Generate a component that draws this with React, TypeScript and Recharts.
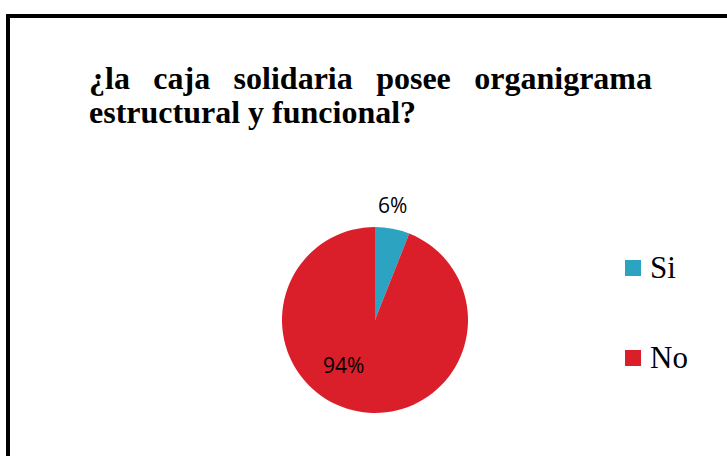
import React from "react";
import { PieChart, Pie, Cell, Legend } from "recharts";

const categories = ["Si", "No"];
const values = [6, 94];
const colors = ["#2BA3C1", "#DA1F2A"];
const titleLines = ["¿la caja solidaria posee organigrama", "estructural y funcional?"];

const data = categories.map((name, i) => ({ name, value: values[i] }));

const RAD = Math.PI / 180;

function renderLabel(props: any) {
  const { cx, cy, midAngle, outerRadius, percent, index } = props;
  let r: number;
  let a: number;
  if (percent < 0.1) {
    // small slice: label just outside the pie
    r = outerRadius + 23;
    a = midAngle + 2;
  } else {
    // big slice: label inside, nudged like the original
    r = outerRadius * 0.59;
    a = midAngle - 24;
  }
  const x = cx + r * Math.cos(-a * RAD);
  const y = cy + r * Math.sin(-a * RAD);
  return (
    <text
      key={`l-${index}`}
      x={x}
      y={y}
      textAnchor="middle"
      dominantBaseline="central"
      fill="#000"
      fontFamily="'Open Sans', sans-serif"
      fontSize={21}
    >
      {`${Math.round(percent * 100)}%`}
    </text>
  );
}

function LegendContent({ payload }: any) {
  const items = (payload || [])
    .slice()
    .sort((a: any, b: any) => categories.indexOf(a.value) - categories.indexOf(b.value));
  return (
    <div>
      {items.map((p: any, i: number) => (
        <div
          key={p.value}
          style={{
            display: "flex",
            alignItems: "center",
            height: 32,
            marginBottom: i === 0 ? 58 : 0,
          }}
        >
          <span
            style={{
              width: 16,
              height: 16,
              background: p.color,
              display: "inline-block",
              marginRight: 9,
            }}
          />
          <span
            style={{
              fontFamily: "'Liberation Serif', 'Times New Roman', serif",
              fontSize: 31,
              color: "#000",
              lineHeight: "32px",
            }}
          >
            {p.value}
          </span>
        </div>
      ))}
    </div>
  );
}

export default function App() {
  return (
    <div
      style={{
        position: "absolute",
        left: 0,
        top: 0,
        width: 727,
        height: 456,
        overflow: "hidden",
        background: "#fff",
      }}
    >
      <div
        style={{
          position: "absolute",
          left: 6,
          top: 14,
          width: 900,
          height: 700,
          border: "4px solid #000",
        }}
      />
      <div
        style={{
          position: "absolute",
          left: 89,
          top: 61,
          width: 563,
          fontFamily: "'Liberation Serif', 'Times New Roman', serif",
          fontWeight: "bold",
          fontSize: 32,
          lineHeight: "34px",
          color: "#000",
        }}
      >
        <div style={{ textAlign: "justify", textAlignLast: "justify" }}>{titleLines[0]}</div>
        <div>{titleLines[1]}</div>
      </div>
      <div style={{ position: "absolute", left: 0, top: 0 }}>
        <PieChart width={727} height={456} margin={{ top: 0, right: 0, bottom: 0, left: 0 }}>
          <Pie
            data={data}
            dataKey="value"
            nameKey="name"
            cx={375}
            cy={320}
            outerRadius={93}
            startAngle={90}
            endAngle={-270}
            stroke="none"
            label={renderLabel}
            labelLine={false}
            isAnimationActive={false}
          >
            {data.map((d, i) => (
              <Cell key={d.name} fill={colors[i]} />
            ))}
          </Pie>
          <Legend
            content={<LegendContent />}
            wrapperStyle={{ position: "absolute", left: 625, top: 252, width: 100 }}
          />
        </PieChart>
      </div>
    </div>
  );
}
